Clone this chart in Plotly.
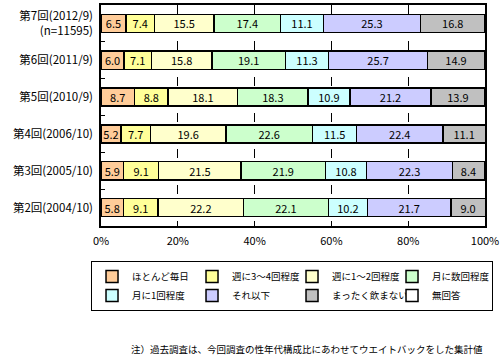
import plotly.graph_objects as go

categories = ["第7回(2012/9)<br>(n=11595)", "第6回(2011/9)", "第5回(2010/9)",
              "第4回(2006/10)", "第3回(2005/10)", "第2回(2004/10)"]
series_names = ["ほとんど毎日", "週に3～4回程度", "週に1～2回程度", "月に数回程度",
                "月に1回程度", "それ以下", "まったく飲まない", "無回答"]
almost_daily = [6.5, 6.0, 8.7, 5.2, 5.9, 5.8]
week_3_4 = [7.4, 7.1, 8.8, 7.7, 9.1, 9.1]
week_1_2 = [15.5, 15.8, 18.1, 19.6, 21.5, 22.2]
month_few = [17.4, 19.1, 18.3, 22.6, 21.9, 22.1]
month_once = [11.1, 11.3, 10.9, 11.5, 10.8, 10.2]
less = [25.3, 25.7, 21.2, 22.4, 22.3, 21.7]
never = [16.8, 14.9, 13.9, 11.1, 8.4, 9.0]
no_answer = [0.0, 0.0, 0.0, 0.0, 0.0, 0.0]
tick_vals = [0, 20, 40, 60, 80, 100]
tick_text = ["0%", "20%", "40%", "60%", "80%", "100%"]

series_values = [almost_daily, week_3_4, week_1_2, month_few, month_once, less, never, no_answer]
colors = ["#FFCC99", "#FFFF99", "#FFFFCC", "#CCFFCC", "#CCFFFF", "#CCCCFF", "#C0C0C0", "#FFFFFF"]

FONT = "Noto Sans CJK JP"
fig = go.Figure()
for name, vals, col in zip(series_names, series_values, colors):
    fig.add_trace(go.Bar(
        y=categories, x=vals, name=name, orientation="h",
        marker=dict(color=col, line=dict(color="black", width=1.5)),
        text=[f"{v:.1f}" if v > 0 else "" for v in vals],
        textposition="inside", insidetextanchor="middle", constraintext="none",
        textangle=0,
        textfont=dict(color="black", size=11, family=FONT),
        hoverinfo="skip",
    ))

fig.update_layout(
    barmode="stack", bargap=0.51,
    width=502, height=362,
    margin=dict(l=101, r=17, t=5, b=136, autoexpand=False),
    paper_bgcolor="white", plot_bgcolor="white",
    font=dict(family=FONT, size=11, color="black"),
    showlegend=True,
    legend=dict(
        orientation="h", x=-0.026, y=-0.158, xanchor="left", yanchor="top",
        entrywidth=55, entrywidthmode="pixels",
        bordercolor="black", borderwidth=1,
        font=dict(size=9.5, family=FONT), traceorder="normal",
        itemwidth=30,
    ),
    annotations=[dict(
        text="注）過去調査は、今回調査の性年代構成比にあわせてウエイトバックをした集計値",
        xref="paper", yref="paper", x=1.0, y=-0.555, xanchor="right", yanchor="middle",
        showarrow=False, font=dict(size=9.5, family=FONT, color="black"),
    )],
)
fig.update_xaxes(
    range=[0, 100], tickvals=tick_vals, ticktext=tick_text,
    showgrid=True, gridcolor="black", griddash="dash", gridwidth=1,
    showline=True, linecolor="black", linewidth=1.5, mirror=True,
    ticks="", zeroline=False, tickfont=dict(size=11, family=FONT), ticklabelstandoff=4,
    automargin=False,
)
fig.update_yaxes(
    autorange="reversed", showline=True, linecolor="black", linewidth=1.5, mirror=True,
    ticks="inside", ticklen=4, tickcolor="black", tickson="boundaries",
    tickfont=dict(size=11.5, family=FONT), showgrid=False, automargin=False,
    ticklabelstandoff=4,
)
fig.write_html("out.html", config={"displayModeBar": False},
               post_script="document.body.style.margin='0';")
